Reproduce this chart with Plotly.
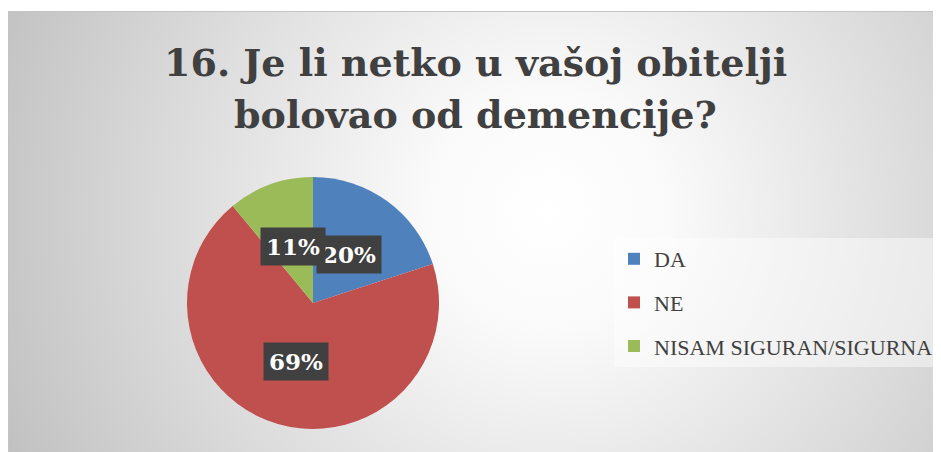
import base64
import math
import plotly.graph_objects as go

# ---- data ----
categories = ["DA", "NE", "NISAM SIGURAN/SIGURNA"]
values = [20, 69, 11]
colors = ["#4F81BD", "#C0504D", "#9BBB59"]
title_lines = ["16. Je li netko u vašoj obitelji", "bolovao od demencije?"]

# page body has an 8px margin; figure fills the rest of the window
OFF = 8
W, H = 941 - OFF, 452 - OFF
def px(x):
    return (x - OFF) / W
def py(y):
    return 1 - (y - OFF) / H

# pie geometry (screen pixels)
CX, CY, R = 313, 303, 126

# background gradient (chart area, from screen x=8,y=11 to the window edge)
BW, BH = 941 - 8, 452 - 11
svg = (f'<svg xmlns="http://www.w3.org/2000/svg" width="{BW}" height="{BH}" viewBox="0 0 {BW} {BH}" '
       'preserveAspectRatio="none"><defs><radialGradient id="g" gradientUnits="userSpaceOnUse" '
       'cx="540" cy="200" r="600"><stop offset="0" stop-color="#ffffff"/>'
       '<stop offset="0.2" stop-color="#fafafa"/><stop offset="1" stop-color="#c0c0c0"/>'
       f'</radialGradient></defs><rect x="0.5" y="0.5" width="{BW + 5}" height="{BH + 5}" fill="url(#g)" '
       'stroke="#c4c4c4" stroke-width="1"/></svg>')
src = "data:image/svg+xml;base64," + base64.b64encode(svg.encode()).decode()

fig = go.Figure()
fig.add_trace(go.Pie(
    labels=categories, values=values, sort=False, direction="clockwise", rotation=0,
    marker=dict(colors=colors, line=dict(width=0)),
    textinfo="none", hoverinfo="label+percent", showlegend=False,
    domain=dict(x=[px(CX - R), px(CX + R)], y=[py(CY + R), py(CY - R)]),
))

# legend proxies
for cat, col in zip(categories, colors):
    fig.add_trace(go.Scatter(
        x=[None], y=[None], mode="markers", name=cat, legendgroup=cat,
        marker=dict(symbol="square", size=13, color=col),
    ))

annotations = []
for i, line in enumerate(title_lines):
    annotations.append(dict(
        text=line, x=px(475), y=py(63 + 52 * i), xref="paper", yref="paper",
        xanchor="center", yanchor="middle", showarrow=False,
        font=dict(family="DejaVu Serif", size=38, color="#404040", weight="bold"),
    ))

# data labels at slice mid-angles
total = sum(values)
cum = 0
label_specs = []
for v in values:
    mid = 2 * math.pi * (cum + v / 2) / total
    cum += v
    lx = CX + 0.48 * R * math.sin(mid)
    ly = CY - 0.48 * R * math.cos(mid)
    label_specs.append((lx, ly, f"{round(100 * v / total)}%"))

for lx, ly, t in label_specs:
    annotations.append(dict(
        text=t, x=px(lx), y=py(ly), xref="paper", yref="paper",
        xanchor="center", yanchor="middle", showarrow=False,
        font=dict(family="DejaVu Serif", size=23, color="#ffffff", weight="bold"),
        bgcolor="#404040", borderpad=5,
    ))

fig.update_layout(
    width=W, height=H, autosize=False,
    margin=dict(l=0, r=0, t=0, b=0),
    paper_bgcolor="#ffffff", plot_bgcolor="rgba(0,0,0,0)",
    xaxis=dict(visible=False), yaxis=dict(visible=False),
    images=[dict(source=src, xref="paper", yref="paper", x=px(8), y=py(11),
                 sizex=BW / W, sizey=BH / H, xanchor="left", yanchor="top",
                 sizing="stretch", layer="below")],
    annotations=annotations,
    showlegend=True,
    legend=dict(
        x=px(614), y=py(238), xanchor="left", yanchor="top",
        bgcolor="rgba(255,255,255,0.45)", borderwidth=0,
        font=dict(family="Liberation Serif", size=22, color="#404040"),
        tracegroupgap=12, itemsizing="constant",
    ),
)

fig.write_html("out.html")
